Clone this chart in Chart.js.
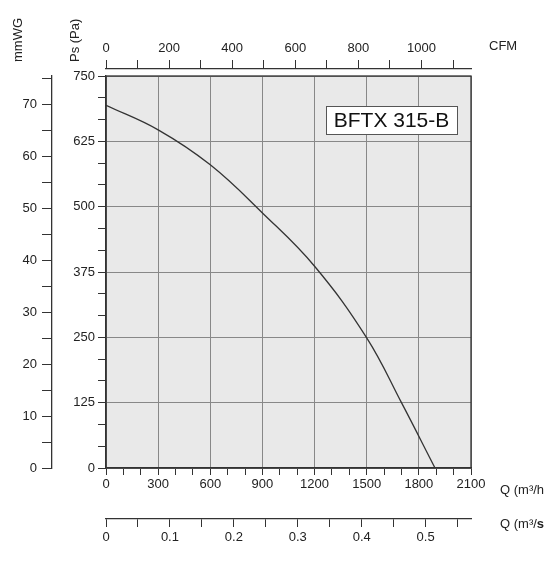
<!DOCTYPE html>
<html><head><meta charset="utf-8">
<script src="https://cdn.jsdelivr.net/npm/chart.js@4"></script>
<style>
html,body{margin:0;padding:0;background:#fff;}
#wrap{position:relative;width:559px;height:564px;font-family:"Liberation Sans",Arial,sans-serif;color:#222;}
.t{position:absolute;font-size:13px;white-space:nowrap;}
.r{transform:rotate(-90deg);transform-origin:left top;}
</style></head><body>
<div id="wrap">
<canvas id="c" width="559" height="564"></canvas>
<div class="t r" style="left:10px;top:62px;">mmWG</div>
<div class="t r" style="left:67px;top:62px;">Ps (Pa)</div>
<div class="t" style="left:489px;top:38px;">CFM</div>
<div class="t" style="left:500px;top:482px;">Q (m³/h</div>
<div class="t" style="left:500px;top:516px;">Q (m³/<b>s</b></div>
</div>
<script>
const flowM3h = [0, 300, 600, 900, 1200, 1500, 1700, 1893];
const pressurePa = [694, 647, 580, 488, 386, 249, 125, 0];
const modelName = "BFTX 315-B";
const qMax = 2100, psMax = 750, cfmMax = 1157, m3sMax = 0.571, mmMax = 75.4;

function mkTicks(step, max){ return s => { const t=[]; for(let i=0;i*step<=max+1e-9;i++) t.push({value:+(i*step).toFixed(6)}); s.ticks=t; }; }
const isMul = (v,m)=>Math.abs(v/m-Math.round(v/m))<1e-6;
const font = {family:'"Liberation Sans", Arial, sans-serif', size:13};

const bg = {id:'bg',
 beforeDraw(ch){const a=ch.chartArea,c=ch.ctx;c.save();c.fillStyle='#e9e9e9';c.fillRect(a.left,a.top,a.right-a.left,a.bottom-a.top);c.restore();},
 afterDraw(ch){const a=ch.chartArea,c=ch.ctx;c.save();c.strokeStyle='#333';c.lineWidth=1.3;c.strokeRect(a.left,a.top,a.right-a.left,a.bottom-a.top);
  const x=a.left+220,y=a.top+30,w=131,h=28;c.fillStyle='#fff';c.fillRect(x,y,w,h);c.strokeStyle='#555';c.lineWidth=1;c.strokeRect(x+.5,y+.5,w,h);
  c.fillStyle='#111';c.font='21px "Liberation Sans", Arial, sans-serif';c.textAlign='center';c.textBaseline='middle';c.fillText(modelName,x+w/2,y+h/2+1);c.restore();}
};

new Chart(document.getElementById('c'),{
 type:'line',
 data:{datasets:[{data:flowM3h.map((q,i)=>({x:q,y:pressurePa[i]})),borderColor:'#333',borderWidth:1.3,pointRadius:0,tension:0.4,fill:false}]},
 options:{responsive:false,animation:false,events:[],
  layout:{padding:{left:0,right:88,top:0,bottom:15}},
  plugins:{legend:{display:false},tooltip:{enabled:false}},
  scales:{
   x:{type:'linear',position:'bottom',weight:0,min:0,max:qMax,afterBuildTicks:mkTicks(100,qMax),afterFit:s=>{s.height=51;},
      grid:{color:c=>isMul(c.tick.value,300)?'#888':'transparent',tickColor:'#333',tickLength:7,lineWidth:1},
      border:{color:'#333',width:1.3},
      ticks:{font,color:'#222',padding:2,maxRotation:0,autoSkip:false,callback:v=>isMul(v,300)?String(v):''}},
   xs:{type:'linear',position:'bottom',weight:1,min:0,max:m3sMax,afterBuildTicks:mkTicks(0.05,m3sMax),afterFit:s=>{s.height=30;},
      grid:{drawOnChartArea:false,tickColor:'#333',tickLength:8},border:{color:'#333',width:1.3},
      ticks:{font,color:'#222',padding:3,maxRotation:0,autoSkip:false,callback:v=>isMul(v,0.1)?(v===0?'0':String(+v.toFixed(1))):''}},
   sp:{type:'linear',position:'top',weight:0,display:true,afterFit:s=>{s.height=7;},grid:{display:false},border:{display:false},ticks:{display:false}},
   cfm:{type:'linear',position:'top',weight:1,min:0,max:cfmMax,afterBuildTicks:mkTicks(100,cfmMax),afterFit:s=>{s.height=69;},
      grid:{drawOnChartArea:false,tickColor:'#333',tickLength:9},border:{color:'#333',width:1.3},
      ticks:{font,color:'#222',padding:4,maxRotation:0,autoSkip:false,callback:v=>isMul(v,200)?String(v):''}},
   y:{type:'linear',position:'left',weight:0,min:0,max:psMax,afterBuildTicks:mkTicks(125/3,psMax),afterFit:s=>{s.width=54;},
      grid:{color:c=>isMul(c.tick.value,125)?'#888':'transparent',tickColor:'#333',tickLength:8},
      border:{color:'#333',width:1.3},
      ticks:{font,color:'#222',padding:3,autoSkip:false,callback:v=>isMul(v,125)?String(Math.round(v)):''}},
   mm:{type:'linear',position:'left',weight:1,min:0,max:mmMax,afterBuildTicks:mkTicks(5,mmMax),afterFit:s=>{s.width=52;},
      grid:{drawOnChartArea:false,tickColor:'#333',tickLength:10},border:{color:'#333',width:1.3},
      ticks:{font,color:'#222',padding:5,autoSkip:false,callback:v=>isMul(v,10)?String(v):''}}
  }},
 plugins:[bg]
});
</script></body></html>
